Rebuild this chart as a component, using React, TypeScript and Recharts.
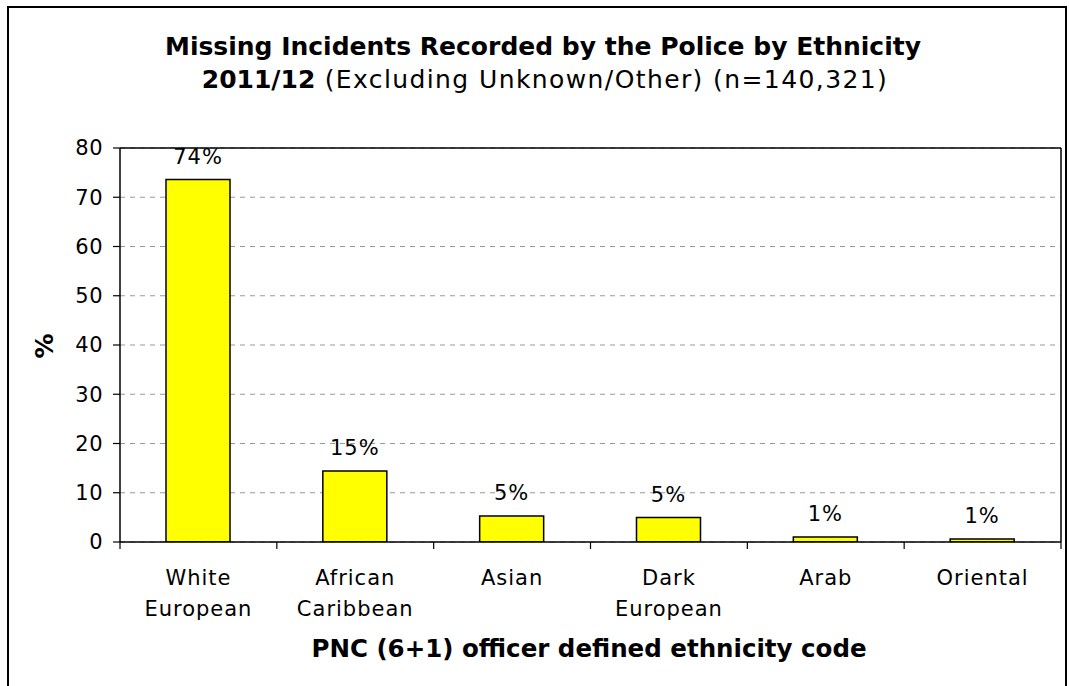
import React from "react";
import { BarChart, Bar, XAxis, YAxis, CartesianGrid, LabelList, ReferenceLine } from "recharts";

const categories = ["White European", "African Caribbean", "Asian", "Dark European", "Arab", "Oriental"];
const percentValues = [73.6, 14.4, 5.3, 4.95, 1.0, 0.6];
const percentLabels = ["74%", "15%", "5%", "5%", "1%", "1%"];
const yTicks = [0, 10, 20, 30, 40, 50, 60, 70, 80];

const titleLine1 = "Missing Incidents Recorded by the Police by Ethnicity";
const titleLine2Bold = "2011/12";
const titleLine2Rest = " (Excluding Unknown/Other) (n=140,321)";
const xTitle = "PNC (6+1) officer defined ethnicity code";
const yTitle = "%";

const data = categories.map((c, i) => ({ cat: c, value: percentValues[i], label: percentLabels[i] }));

const FONT = "Verdana, 'DejaVu Sans', sans-serif";

const CHART_W = 1069;
const CHART_H = 686;
const MARGIN = { top: 148, right: 7, bottom: 84, left: 0 };
const Y_AXIS_W = 120;
const RIGHT_AXIS_W = 1;
const PLOT_W = CHART_W - MARGIN.left - MARGIN.right - Y_AXIS_W - RIGHT_AXIS_W;
const BAND = PLOT_W / categories.length;

const CatTick = (props: any) => {
  const { x, y, payload, index } = props;
  const lines = String(payload.value).split(" ");
  const last = index === categories.length - 1;
  return (
    <g>
      <line x1={x - BAND / 2} x2={x - BAND / 2} y1={y} y2={y + 7} stroke="#000" strokeWidth={1.2} />
      {last && <line x1={x + BAND / 2} x2={x + BAND / 2} y1={y} y2={y + 7} stroke="#000" strokeWidth={1.2} />}
      {lines.map((l: string, i: number) => (
        <text
          key={i}
          x={x}
          y={y + 43 + i * 31}
          textAnchor="middle"
          fontFamily={FONT}
          fontSize={21}
          letterSpacing={1}
          fill="#000"
        >
          {l}
        </text>
      ))}
    </g>
  );
};

export default function App() {
  return (
    <div style={{ position: "relative", width: CHART_W, height: CHART_H, overflow: "hidden", background: "#fff" }}>
      <style>{`html,body{margin:0;overflow:hidden;}`}</style>
      <div
        style={{
          position: "absolute",
          left: 7,
          top: 6,
          width: 1060,
          height: 700,
          border: "2px solid #000",
          borderBottom: "none",
          boxSizing: "border-box",
        }}
      />
      <svg width={CHART_W} height={CHART_H} style={{ position: "absolute", left: 0, top: 0 }}>
        <text x={543} y={55} textAnchor="middle" fontFamily={FONT} fontSize={25} fontWeight="bold" fill="#000">
          {titleLine1}
        </text>
        <text x={545} y={88} textAnchor="middle" fontFamily={FONT} fontSize={25} fill="#000">
          <tspan fontWeight="bold">{titleLine2Bold}</tspan>
          <tspan letterSpacing={1.4}>{titleLine2Rest}</tspan>
        </text>
        <text x={589} y={657} textAnchor="middle" fontFamily={FONT} fontSize={24.5} fontWeight="bold" fill="#000">
          {xTitle}
        </text>
        <text
          x={44}
          y={346}
          textAnchor="middle"
          dominantBaseline="central"
          fontFamily={FONT}
          fontSize={25}
          fontWeight="bold"
          fill="#000"
          transform="rotate(-90 44 346)"
        >
          {yTitle}
        </text>
      </svg>
      <div style={{ position: "absolute", left: 0, top: 0 }}>
        <BarChart width={CHART_W} height={CHART_H} data={data} margin={MARGIN}>
          <CartesianGrid vertical={false} stroke="#999" strokeDasharray="5 5" />
          <XAxis
            dataKey="cat"
            tick={<CatTick />}
            tickLine={false}
            tickSize={0}
            tickMargin={0}
            axisLine={{ stroke: "#000", strokeWidth: 1.5 }}
            height={60}
            interval={0}
          />
          <YAxis
            domain={[0, 80]}
            ticks={yTicks}
            width={Y_AXIS_W}
            tickSize={7}
            tickMargin={10}
            tickLine={{ stroke: "#000", strokeWidth: 1.2 }}
            axisLine={{ stroke: "#000", strokeWidth: 1.5 }}
            tick={{ fontFamily: FONT, fontSize: 21, fill: "#000", letterSpacing: 0.5 }}
            allowDataOverflow
          />
          <YAxis
            yAxisId="r"
            orientation="right"
            domain={[0, 80]}
            width={RIGHT_AXIS_W}
            tick={false}
            tickLine={false}
            axisLine={{ stroke: "#000", strokeWidth: 1.5 }}
          />
          <ReferenceLine y={80} stroke="#000" strokeWidth={1.5} />
          <Bar dataKey="value" fill="#FFFF00" stroke="#000" strokeWidth={1.5} barSize={64} isAnimationActive={false}>
            <LabelList
              dataKey="label"
              position="top"
              offset={16}
              fontFamily={FONT}
              fontSize={21}
              letterSpacing={1}
              fill="#000"
            />
          </Bar>
        </BarChart>
      </div>
    </div>
  );
}
